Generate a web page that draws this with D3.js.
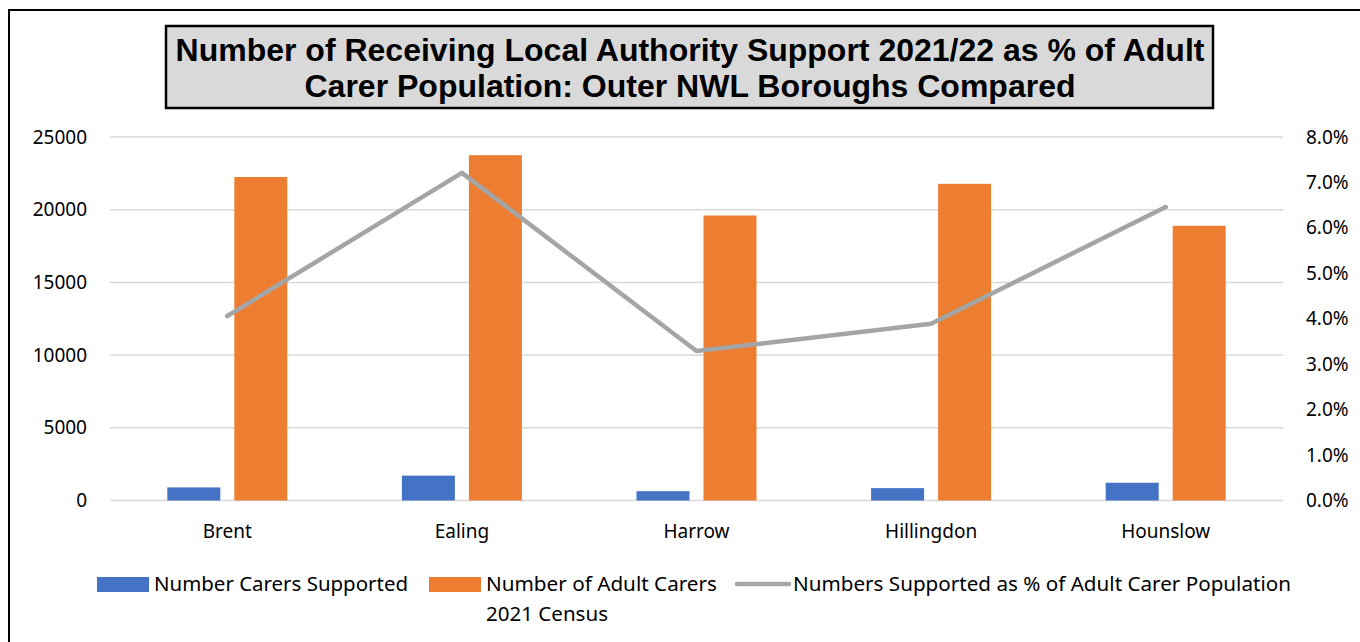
<!DOCTYPE html>
<html><head><meta charset="utf-8">
<script src="https://cdn.jsdelivr.net/npm/d3@7"></script>
<style>body{margin:0;background:#fff}svg{display:block}</style>
</head><body>
<script>
const categories = ["Brent","Ealing","Harrow","Hillingdon","Hounslow"];
const carersSupported = [900,1710,640,850,1220];
const adultCarers = [22250,23750,19600,21780,18890];
const pctSupported = [0.0406,0.0721,0.0329,0.0389,0.0646];
const leftTicks = [0,5000,10000,15000,20000,25000];
const rightTicks = [0,0.01,0.02,0.03,0.04,0.05,0.06,0.07,0.08];
const seriesNames = ["Number Carers Supported","Number of Adult Carers 2021 Census","Numbers Supported as % of Adult Carer Population"];
const titleLines = ["Number of Receiving Local Authority Support 2021/22 as % of Adult","Carer Population: Outer NWL Boroughs Compared"];

const W=1360,H=642;
const svg=d3.select("body").append("svg").attr("width",W).attr("height",H);
const font="'Noto Sans', 'Open Sans', sans-serif";

// outer frame
svg.append("rect").attr("x",9).attr("y",10).attr("width",1400).attr("height",700)
  .attr("fill","none").attr("stroke","#000").attr("stroke-width",2);

const x0=110,x1=1283,yTop=137,yBot=500.5;
const x=d3.scaleBand().domain(categories).range([x0,x1]);
const yL=d3.scaleLinear().domain([0,25000]).range([yBot,yTop]);
const yR=d3.scaleLinear().domain([0,0.08]).range([yBot,yTop]);

// gridlines
svg.append("g").selectAll("line").data(leftTicks).join("line")
  .attr("x1",x0).attr("x2",x1).attr("y1",d=>yL(d)).attr("y2",d=>yL(d))
  .attr("stroke","#d9d9d9").attr("stroke-width",1.5);

// left axis
const gl=svg.append("g").attr("transform",`translate(${x0},0)`)
  .call(d3.axisLeft(yL).tickValues(leftTicks).tickSize(0).tickPadding(23).tickFormat(d3.format("d")));
gl.select(".domain").remove();
gl.selectAll("text").attr("font-family",font).attr("font-size",19).attr("fill","#000");

// right axis
const gr=svg.append("g").attr("transform",`translate(${x1},0)`)
  .call(d3.axisRight(yR).tickValues(rightTicks).tickSize(0).tickPadding(23).tickFormat(d3.format(".1%")));
gr.select(".domain").remove();
gr.selectAll("text").attr("font-family",font).attr("font-size",19).attr("fill","#000");

// bottom axis labels
const gb=svg.append("g").attr("transform",`translate(0,${yBot})`)
  .call(d3.axisBottom(x).tickSize(0).tickPadding(24));
gb.select(".domain").remove();
gb.selectAll("text").attr("font-family",font).attr("font-size",19).attr("fill","#000");

// bars
const bw=53,gap=14;
const groupOff=(x.bandwidth()-(2*bw+gap))/2;
svg.append("g").selectAll("rect").data(categories).join("rect")
  .attr("x",d=>x(d)+groupOff).attr("width",bw)
  .attr("y",(d,i)=>yL(carersSupported[i])).attr("height",(d,i)=>yBot-yL(carersSupported[i]))
  .attr("fill","#4472c4");
svg.append("g").selectAll("rect").data(categories).join("rect")
  .attr("x",d=>x(d)+groupOff+bw+gap).attr("width",bw)
  .attr("y",(d,i)=>yL(adultCarers[i])).attr("height",(d,i)=>yBot-yL(adultCarers[i]))
  .attr("fill","#ed7d31");

// line
const line=d3.line().x((d,i)=>x(categories[i])+x.bandwidth()/2).y(d=>yR(d));
svg.append("path").datum(pctSupported).attr("d",line)
  .attr("fill","none").attr("stroke","#a5a5a5").attr("stroke-width",4.5).attr("stroke-linecap","round").attr("stroke-linejoin","round");

// title
svg.append("rect").attr("x",166).attr("y",26).attr("width",1047).attr("height",82)
  .attr("fill","#d9d9d9").attr("stroke","#000").attr("stroke-width",2.5);
svg.append("g").selectAll("text").data(titleLines).join("text")
  .attr("x",690).attr("y",(d,i)=>61+i*36).attr("text-anchor","middle")
  .attr("font-family","'Liberation Sans', Arial, sans-serif").attr("font-weight","bold")
  .attr("font-size",32).attr("fill","#000").text(d=>d);

// legend
const lg=svg.append("g").attr("font-family",font).attr("font-size",19).attr("fill","#000");
lg.append("rect").attr("x",97).attr("y",577).attr("width",52).attr("height",15).attr("fill","#4472c4");
lg.append("text").attr("x",154).attr("y",591).attr("textLength",254).attr("lengthAdjust","spacingAndGlyphs").text(seriesNames[0]);
lg.append("rect").attr("x",429).attr("y",577).attr("width",52).attr("height",15).attr("fill","#ed7d31");
lg.append("text").attr("x",486).attr("y",591).attr("textLength",231).attr("lengthAdjust","spacingAndGlyphs").text("Number of Adult Carers");
lg.append("text").attr("x",486).attr("y",621).attr("textLength",122).attr("lengthAdjust","spacingAndGlyphs").text("2021 Census");
lg.append("line").attr("x1",737).attr("x2",789).attr("y1",584).attr("y2",584).attr("stroke","#a5a5a5").attr("stroke-width",4.5).attr("stroke-linecap","round");
lg.append("text").attr("x",793).attr("y",591).attr("textLength",498).attr("lengthAdjust","spacingAndGlyphs").text(seriesNames[2]);
</script>
</body></html>
